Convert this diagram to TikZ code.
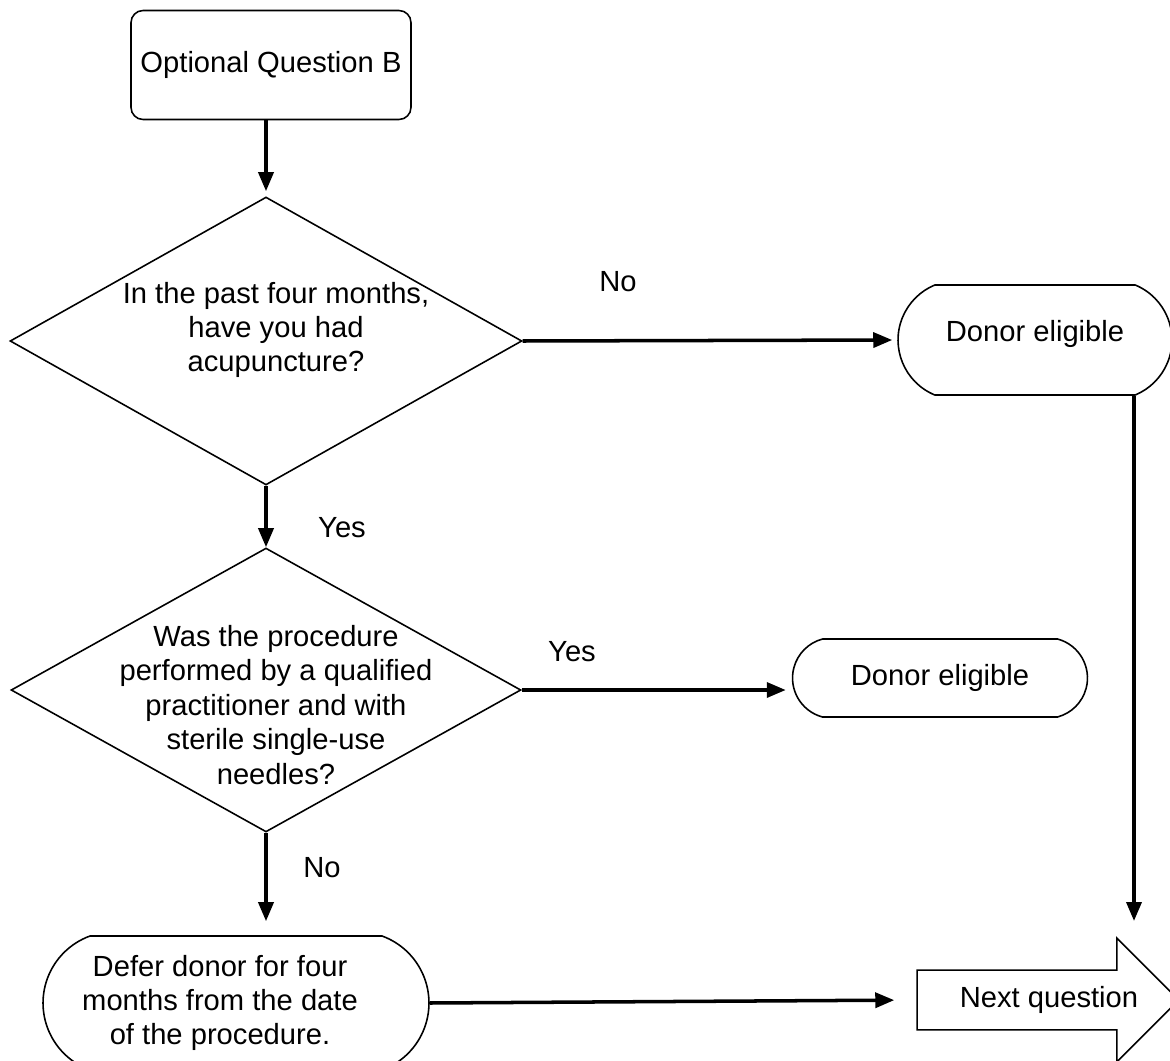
\documentclass[tikz,border=0pt]{standalone}
\usepackage{fontspec}
\setmainfont{Liberation Sans}
\usetikzlibrary{arrows.meta, positioning, shapes.geometric, shapes.misc, shapes.arrows}

\begin{document}
\begin{tikzpicture}[x=0.02cm, y=-0.02cm,
    every node/.style={font=\fontsize{16.6}{19.6}\selectfont},
    startbox/.style={draw, line width=0.9pt, rounded corners=0.24cm, minimum width=5.6cm, minimum height=2.18cm},
    decision/.style={draw, diamond, line width=0.9pt, inner sep=0pt},
    terminal/.style={draw, rounded rectangle, line width=0.9pt, align=center, inner sep=0pt},
    flow/.style={line width=2pt, -{Triangle[length=0.38cm, width=0.3cm]}}]
% Frame
\clip (0,0) rectangle (1170,1061);
% Start
\node[startbox] (q0) at (271,65) {Optional Question B};
% Decisions
\node[decision, minimum width=10.24cm, minimum height=5.76cm,
  label={[align=center, xshift=0.2cm, yshift=0.22cm]center:{In the past four months,\\have you had\\acupuncture?}}] (d1) at (266,341) {};
\node[decision, minimum width=10.2cm, minimum height=5.68cm,
  label={[align=center, xshift=0.2cm, yshift=-0.3cm]center:{Was the procedure\\performed by a qualified\\practitioner and with\\sterile single-use\\needles?}}] (d2) at (266,690) {};
% Outcomes
\node[terminal, minimum width=5.48cm, minimum height=2.2cm, rounded rectangle arc length=135, text depth=10pt] (de1) at (1035,340) {Donor eligible};
\node[terminal, minimum width=5.9cm, minimum height=1.56cm, rounded rectangle arc length=150] (de2) at (940,678) {Donor eligible};
\node[terminal, minimum width=7.72cm, minimum height=2.68cm, rounded rectangle arc length=140,
  label={[align=center, xshift=-0.32cm]center:{Defer donor for four\\months from the date\\of the procedure.}}] (defer) at (236,1003) {};
\node[draw, single arrow, line width=0.9pt, minimum height=5.18cm, minimum width=2.48cm,
  single arrow head extend=0.61cm, single arrow tip angle=90, inner xsep=0.2cm, inner ysep=0.28cm] (nq) at (1033,1000) {\hspace*{0.64cm}Next question};
\coordinate (nqin) at (1134,921);
% Labels
\node (no1) at (618,282) {No};
\node (yes1) at (342,528) {Yes};
\node (yes2) at (572,652) {Yes};
\node (no2) at (322,868) {No};
% Connectors
\draw[flow, shorten >=0.1cm] (q0.south -| d1.north) -- (d1.north);
\draw[flow, shorten >=0.1cm] (d1.east) -- (de1.west);
\draw[flow] (d1.south) -- (d2.north);
\draw[flow, shorten >=0.12cm] (d2.east) -- (d2.east -| de2.west);
\draw[flow, shorten >=0.28cm] (d2.south) -- (d2.south |- defer.north);
\draw[flow, shorten >=0.44cm] (defer.east) -- (nq.tail);
\draw[flow] (de1.south -| nqin) -- (nqin);
\end{tikzpicture}
\end{document}
